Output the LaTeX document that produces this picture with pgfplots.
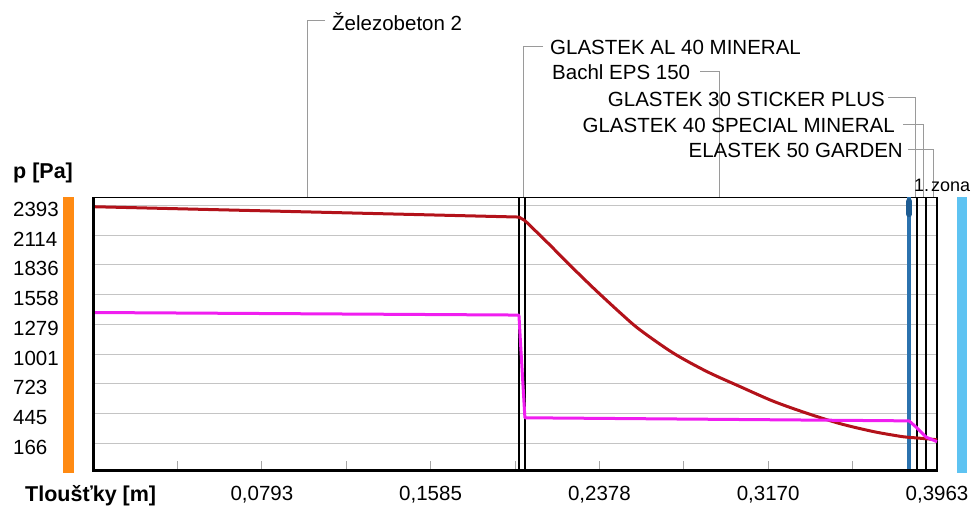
\documentclass[border=0pt]{standalone}
\usepackage{fontspec}
\setmainfont{Liberation Sans}
\usepackage{pgfplots}
\pgfplotsset{compat=1.18}
\definecolor{redline}{HTML}{B3121A}
\definecolor{magline}{HTML}{F01EF0}
\definecolor{gridc}{HTML}{C4C4C4}
\definecolor{leader}{HTML}{9A9A9A}
\definecolor{zoneblue}{HTML}{2B72AE}
\definecolor{zonedark}{HTML}{1E5C92}
\definecolor{orangebar}{HTML}{FF8A12}
\definecolor{lightbar}{HTML}{5EC3F2}
\newcommand\f{\fontsize{20.5pt}{24pt}\selectfont}
\newcommand\fb{\fontsize{21.5pt}{24pt}\selectfont\bfseries}
\begin{document}
\begin{tikzpicture}[x=1pt,y=1pt]
\useasboundingbox (0,0) rectangle (978,-510);
\fill[orangebar] (63,-197) rectangle (74,-473);
\fill[lightbar] (957,-197) rectangle (967,-473);
\begin{axis}[
  at={(93pt,-471pt)}, anchor=south west,
  scale only axis, width=844pt, height=273.5pt,
  xmin=0, xmax=0.3963, ymin=-93, ymax=2466,
  axis line style={black, line width=1.2pt},
  tick pos=left, tick align=inside,
  xtick={0.0793,0.1585,0.2378,0.3170,0.3963},
  xticklabels={{0,0793},{0,1585},{0,2378},{0,3170},{0,3963}},
  minor xtick={0.0396,0.1189,0.1982,0.2774,0.3567},
  ytick={166,444.4,722.8,1001.2,1279.6,1558,1836.4,2114.8,2393.2},
  yticklabels={166,445,723,1001,1279,1558,1836,2114,2393},
  major tick length=10pt, minor tick length=10pt,
  xtick style={gray!70, line width=1pt},
  minor tick style={gray!70, line width=1pt},
  ytick style={draw=none},
  ymajorgrids, grid style={gridc, line width=1pt},
  xticklabel style={anchor=base, yshift=-29pt, font=\f, inner xsep=0pt},
  yticklabel style={anchor=west, xshift=-80pt, yshift=-4pt, font=\f, inner xsep=0pt},
  clip=false,
]
% layer boundaries
\addplot[black, line width=1.2pt] coordinates {(0.2000,-93) (0.2000,2466)};
\addplot[black, line width=1.2pt] coordinates {(0.2028,-93) (0.2028,2466)};
\addplot[black, line width=1.2pt] coordinates {(0.3869,-93) (0.3869,2466)};
\addplot[black, line width=1.2pt] coordinates {(0.3911,-93) (0.3911,2466)};
% zone line
\addplot[zoneblue, line width=3.5pt] coordinates {(0.3832,-93) (0.3832,2466)};
\addplot[zonedark, line width=6pt, line cap=round] coordinates {(0.3832,2310) (0.3832,2430)};
% saturation pressure
\addplot[redline, line width=3pt, line join=round] coordinates {
 (0,2380) (0.2000,2283) (0.2028,2250)};
\addplot[redline, line width=3pt, smooth, tension=0.5] coordinates {
 (0.2028,2250) (0.2136,2040) (0.2250,1812) (0.2357,1605)
 (0.2482,1375) (0.2568,1228) (0.2725,1010) (0.2882,838) (0.3038,697) (0.3194,560)
 (0.3351,448) (0.3508,350) (0.3664,276) (0.3789,232) (0.3832,222)};
\addplot[redline, line width=3pt, line join=round] coordinates {
 (0.3832,222) (0.3869,216) (0.3911,209) (0.3963,200)};
% partial pressure
\addplot[magline, line width=3pt, line join=round] coordinates {
 (0,1390) (0.2000,1366) (0.2008,1085) (0.2028,405) (0.3832,376)
 (0.3869,310) (0.3911,225) (0.3963,181)};
\draw[black, line width=3pt] (rel axis cs:0,0) -- (rel axis cs:0,1);
\draw[black, line width=3pt] (rel axis cs:0,0) -- (rel axis cs:1,0);
\end{axis}
% leader lines and layer labels
\begin{scope}[leader, line width=1pt]
\draw (325,-21) -- (307,-21) -- (307,-197);
\draw (543,-47) -- (523,-47) -- (523,-197);
\draw (700,-72) -- (719,-72) -- (719,-197);
\draw (888,-98) -- (915,-98) -- (915,-197);
\draw (903,-125) -- (923,-125) -- (923,-197);
\draw (908,-150) -- (933,-150) -- (933,-197);
\end{scope}
\node[anchor=base west, inner sep=0pt, font=\f] at (332,-31) {Železobeton 2};
\node[anchor=base west, inner sep=0pt, font=\f] at (550,-55) {GLASTEK AL 40 MINERAL};
\node[anchor=base west, inner sep=0pt, font=\f] at (552,-80) {Bachl EPS 150};
\node[anchor=base east, inner sep=0pt, font=\f] at (885,-106.5) {GLASTEK 30 STICKER PLUS};
\node[anchor=base east, inner sep=0pt, font=\f] at (895,-133) {GLASTEK 40 SPECIAL MINERAL};
\node[anchor=base east, inner sep=0pt, font=\f] at (903,-158) {ELASTEK 50 GARDEN};
\node[anchor=base west, inner sep=0pt, font=\fontsize{18pt}{20pt}\selectfont] at (914,-192) {1.\hspace{2pt}zona};
\node[anchor=base west, inner sep=0pt, font=\fb] at (13,-179) {p [Pa]};
\node[anchor=base west, inner sep=0pt, font=\fb] at (25,-502) {Tloušťky [m]};
\end{tikzpicture}
\end{document}
